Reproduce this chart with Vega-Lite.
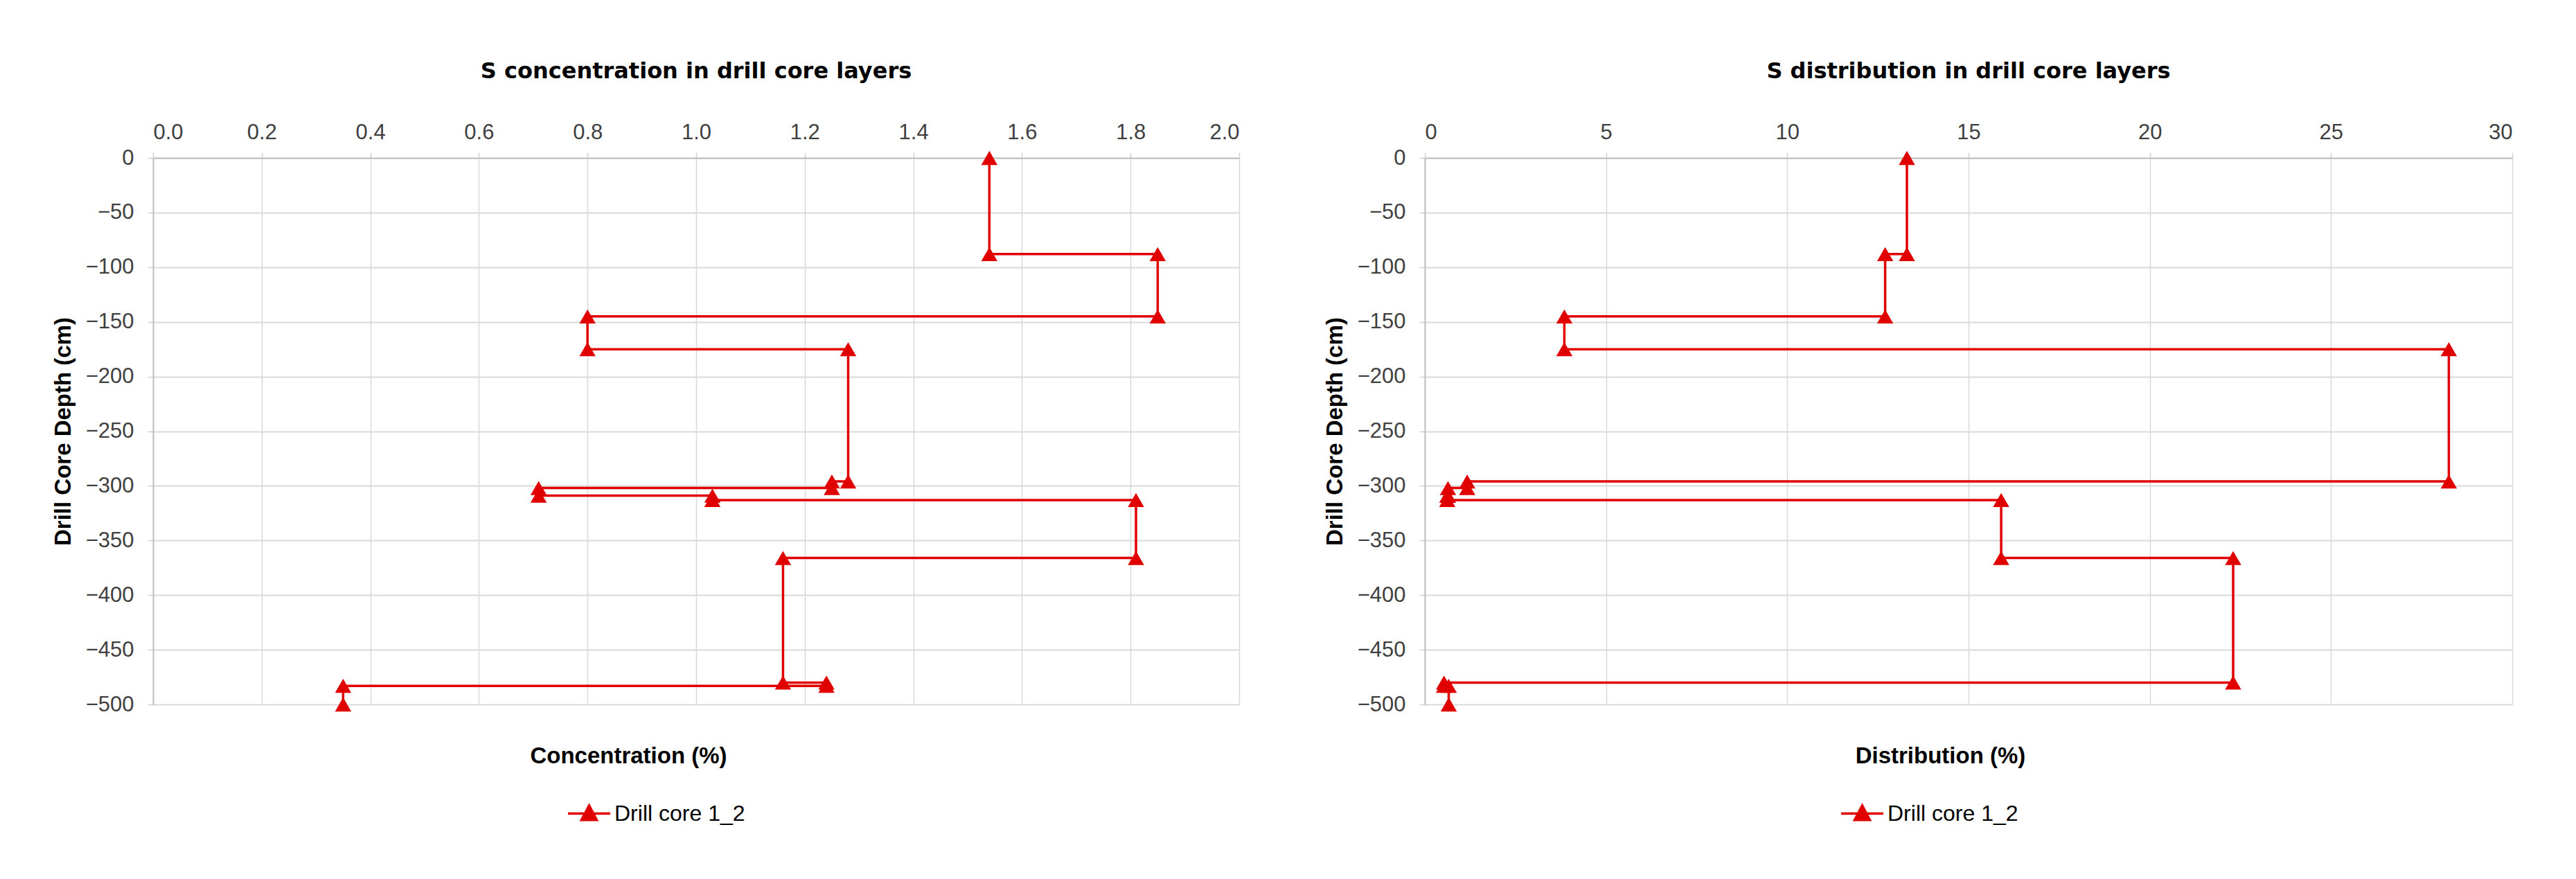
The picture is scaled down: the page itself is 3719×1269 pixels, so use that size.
{
  "$schema": "https://vega.github.io/schema/vega-lite/v6.json",
  "background": "white",
  "padding": {"left": 75, "top": 87, "right": 10, "bottom": 10},
  "spacing": 268,
  "bounds": "flush",
  "resolve": {"scale": {"color": "independent"}, "legend": {"color": "independent"}},
  "datasets": {
    "conc": [
      {"order": 1, "value": 1.54, "depth": 0, "series": "Drill core 1_2"},
      {"order": 2, "value": 1.54, "depth": -88, "series": "Drill core 1_2"},
      {"order": 3, "value": 1.85, "depth": -88, "series": "Drill core 1_2"},
      {"order": 4, "value": 1.85, "depth": -145, "series": "Drill core 1_2"},
      {"order": 5, "value": 0.80, "depth": -145, "series": "Drill core 1_2"},
      {"order": 6, "value": 0.80, "depth": -175, "series": "Drill core 1_2"},
      {"order": 7, "value": 1.28, "depth": -175, "series": "Drill core 1_2"},
      {"order": 8, "value": 1.28, "depth": -296, "series": "Drill core 1_2"},
      {"order": 9, "value": 1.25, "depth": -296, "series": "Drill core 1_2"},
      {"order": 10, "value": 1.25, "depth": -302, "series": "Drill core 1_2"},
      {"order": 11, "value": 0.71, "depth": -302, "series": "Drill core 1_2"},
      {"order": 12, "value": 0.71, "depth": -309, "series": "Drill core 1_2"},
      {"order": 13, "value": 1.03, "depth": -309, "series": "Drill core 1_2"},
      {"order": 14, "value": 1.03, "depth": -313, "series": "Drill core 1_2"},
      {"order": 15, "value": 1.81, "depth": -313, "series": "Drill core 1_2"},
      {"order": 16, "value": 1.81, "depth": -366, "series": "Drill core 1_2"},
      {"order": 17, "value": 1.16, "depth": -366, "series": "Drill core 1_2"},
      {"order": 18, "value": 1.16, "depth": -480, "series": "Drill core 1_2"},
      {"order": 19, "value": 1.24, "depth": -480, "series": "Drill core 1_2"},
      {"order": 20, "value": 1.24, "depth": -483, "series": "Drill core 1_2"},
      {"order": 21, "value": 0.35, "depth": -483, "series": "Drill core 1_2"},
      {"order": 22, "value": 0.35, "depth": -500, "series": "Drill core 1_2"}
    ],
    "dist": [
      {"order": 1, "value": 13.3, "depth": 0, "series": "Drill core 1_2"},
      {"order": 2, "value": 13.3, "depth": -88, "series": "Drill core 1_2"},
      {"order": 3, "value": 12.7, "depth": -88, "series": "Drill core 1_2"},
      {"order": 4, "value": 12.7, "depth": -145, "series": "Drill core 1_2"},
      {"order": 5, "value": 3.85, "depth": -145, "series": "Drill core 1_2"},
      {"order": 6, "value": 3.85, "depth": -175, "series": "Drill core 1_2"},
      {"order": 7, "value": 28.25, "depth": -175, "series": "Drill core 1_2"},
      {"order": 8, "value": 28.25, "depth": -296, "series": "Drill core 1_2"},
      {"order": 9, "value": 1.17, "depth": -296, "series": "Drill core 1_2"},
      {"order": 10, "value": 1.17, "depth": -302, "series": "Drill core 1_2"},
      {"order": 11, "value": 0.64, "depth": -302, "series": "Drill core 1_2"},
      {"order": 12, "value": 0.64, "depth": -309, "series": "Drill core 1_2"},
      {"order": 13, "value": 0.62, "depth": -309, "series": "Drill core 1_2"},
      {"order": 14, "value": 0.62, "depth": -313, "series": "Drill core 1_2"},
      {"order": 15, "value": 15.9, "depth": -313, "series": "Drill core 1_2"},
      {"order": 16, "value": 15.9, "depth": -366, "series": "Drill core 1_2"},
      {"order": 17, "value": 22.3, "depth": -366, "series": "Drill core 1_2"},
      {"order": 18, "value": 22.3, "depth": -480, "series": "Drill core 1_2"},
      {"order": 19, "value": 0.53, "depth": -480, "series": "Drill core 1_2"},
      {"order": 20, "value": 0.53, "depth": -483, "series": "Drill core 1_2"},
      {"order": 21, "value": 0.66, "depth": -483, "series": "Drill core 1_2"},
      {"order": 22, "value": 0.66, "depth": -500, "series": "Drill core 1_2"}
    ]
  },
  "config": {
    "font": "Liberation Sans",
    "view": {"stroke": null},
    "axis": {
      "labelFont": "Liberation Sans",
      "labelFontSize": 31,
      "labelColor": "#404040",
      "gridColor": "#D9D9D9",
      "tickColor": "#D0D0D0",
      "tickSize": 8,
      "tickWidth": 1.5,
      "domainColor": "#BFBFBF",
      "domainWidth": 2,
      "titleFont": "Liberation Sans",
      "titleFontWeight": "bold",
      "titleColor": "#000000"
    },
    "legend": {
      "orient": "none",
      "title": null,
      "padding": 0,
      "labelFont": "Liberation Sans",
      "labelFontSize": 32,
      "labelColor": "#000000",
      "labelLimit": 0,
      "labelOffset": 4,
      "symbolType": "M-1,0H1M0,-0.38L0.36,0.3H-0.36Z",
      "symbolSize": 3721,
      "symbolStrokeWidth": 3.5,
      "symbolFillColor": "#E00000",
      "symbolStrokeColor": "#E00000",
      "symbolOpacity": 1
    },
    "title": {
      "font": "DejaVu Sans",
      "fontSize": 32,
      "fontWeight": "bold",
      "color": "#000000",
      "anchor": "middle",
      "frame": "group",
      "baseline": "alphabetic",
      "offset": 55
    }
  },
  "hconcat": [
    {
      "width": 1568,
      "height": 789,
      "title": "S concentration in drill core layers",
      "data": {"name": "conc"},
      "layer": [
        {
          "mark": {"type": "line", "strokeWidth": 3.5},
          "encoding": {
            "x": {
              "field": "value", "type": "quantitative",
              "scale": {"domain": [0, 2], "nice": false, "zero": false},
              "axis": {
                "orient": "top", "title": null,
                "values": [0, 0.2, 0.4, 0.6, 0.8, 1.0, 1.2, 1.4, 1.6, 1.8, 2.0],
                "format": ".1f", "grid": true, "gridWidth": 1.5,
                "labelPadding": 13, "domain": true
              }
            },
            "y": {
              "field": "depth", "type": "quantitative",
              "scale": {"domain": [-500, 0], "nice": false},
              "axis": {
                "values": [-500, -450, -400, -350, -300, -250, -200, -150, -100, -50, 0],
                "grid": true, "gridWidth": 2, "labelPadding": 20,
                "title": "Drill Core Depth (cm)", "titleFontSize": 33,
                "titleX": -130, "titleY": 394.5, "titleAngle": -90,
                "titleAlign": "center", "titleBaseline": "middle"
              }
            },
            "order": {"field": "order", "type": "quantitative"},
            "color": {
              "field": "series", "type": "nominal",
              "scale": {"range": ["#E00000"]},
              "legend": {"legendX": 597, "legendY": 914}
            }
          }
        },
        {
          "mark": {"type": "point", "shape": "triangle-up", "filled": true, "size": 550, "opacity": 1},
          "encoding": {
            "x": {
              "field": "value", "type": "quantitative",
              "axis": {
                "orient": "bottom", "labels": false, "ticks": false, "domain": false, "grid": false,
                "title": "Concentration (%)", "titleFontSize": 33,
                "titleX": 686, "titleY": 84, "titleAlign": "center", "titleBaseline": "alphabetic"
              }
            },
            "y": {"field": "depth", "type": "quantitative"},
            "color": {"field": "series", "type": "nominal"}
          }
        }
      ],
      "resolve": {"axis": {"x": "independent"}}
    },
    {
      "width": 1570,
      "height": 789,
      "title": "S distribution in drill core layers",
      "data": {"name": "dist"},
      "layer": [
        {
          "mark": {"type": "line", "strokeWidth": 3.5},
          "encoding": {
            "x": {
              "field": "value", "type": "quantitative",
              "scale": {"domain": [0, 30], "nice": false, "zero": false},
              "axis": {
                "orient": "top", "title": null,
                "values": [0, 5, 10, 15, 20, 25, 30],
                "format": "d", "grid": true, "gridWidth": 1.5,
                "labelPadding": 13, "domain": true
              }
            },
            "y": {
              "field": "depth", "type": "quantitative",
              "scale": {"domain": [-500, 0], "nice": false},
              "axis": {
                "values": [-500, -450, -400, -350, -300, -250, -200, -150, -100, -50, 0],
                "grid": true, "gridWidth": 2, "labelPadding": 20,
                "title": "Drill Core Depth (cm)", "titleFontSize": 33,
                "titleX": -130, "titleY": 394.5, "titleAngle": -90,
                "titleAlign": "center", "titleBaseline": "middle"
              }
            },
            "order": {"field": "order", "type": "quantitative"},
            "color": {
              "field": "series", "type": "nominal",
              "scale": {"range": ["#E00000"]},
              "legend": {"legendX": 599, "legendY": 914}
            }
          }
        },
        {
          "mark": {"type": "point", "shape": "triangle-up", "filled": true, "size": 550, "opacity": 1},
          "encoding": {
            "x": {
              "field": "value", "type": "quantitative",
              "axis": {
                "orient": "bottom", "labels": false, "ticks": false, "domain": false, "grid": false,
                "title": "Distribution (%)", "titleFontSize": 33,
                "titleX": 744, "titleY": 84, "titleAlign": "center", "titleBaseline": "alphabetic"
              }
            },
            "y": {"field": "depth", "type": "quantitative"},
            "color": {"field": "series", "type": "nominal"}
          }
        }
      ],
      "resolve": {"axis": {"x": "independent"}}
    }
  ]
}
